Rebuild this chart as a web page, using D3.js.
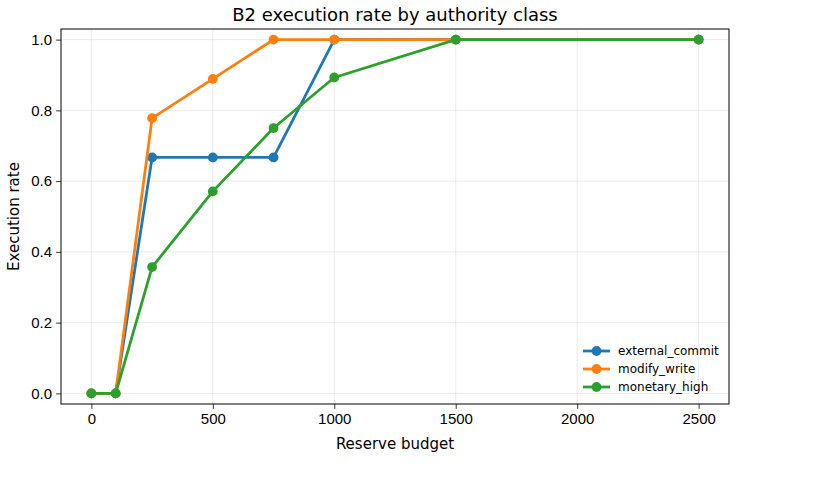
<!DOCTYPE html>
<html>
<head>
<meta charset="utf-8">
<script src="https://cdn.jsdelivr.net/npm/d3@7"></script>
<style>
  body { margin: 0; background: #fff; }
  svg { font-family: "DejaVu Sans", sans-serif; }
</style>
</head>
<body>
<svg id="chart" width="815" height="478"></svg>
<script>
// budgets on x axis
var budgets = [0, 100, 250, 500, 750, 1000, 1500, 2500];
var seriesNames = ["external_commit", "modify_write", "monetary_high"];
var externalCommit = [0, 0, 0.667, 0.667, 0.667, 1.0, 1.0, 1.0];
var modifyWrite = [0, 0, 0.778, 0.889, 1.0, 1.0, 1.0, 1.0];
var monetaryHigh = [0, 0, 0.357, 0.571, 0.75, 0.893, 1.0, 1.0];
var colors = ["#1f77b4", "#ff7f0e", "#2ca02c"];
var xTicks = [0, 500, 1000, 1500, 2000, 2500];
var yTicks = [0, 0.2, 0.4, 0.6, 0.8, 1.0];

var svg = d3.select("#chart");
var margin = {left: 61, top: 29, right: 729, bottom: 404};

var x = d3.scaleLinear().domain([-125, 2625]).range([margin.left, margin.right]);
var y = d3.scaleLinear().domain([-0.03, 1.03]).range([margin.bottom, margin.top]);

// grid
var grid = svg.append("g");
xTicks.forEach(function(t) {
  grid.append("line")
    .attr("x1", x(t)).attr("x2", x(t))
    .attr("y1", margin.top).attr("y2", margin.bottom)
    .attr("stroke", "#b0b0b0").attr("stroke-opacity", 0.3).attr("stroke-width", 0.8);
});
yTicks.forEach(function(t) {
  grid.append("line")
    .attr("x1", margin.left).attr("x2", margin.right)
    .attr("y1", y(t)).attr("y2", y(t))
    .attr("stroke", "#b0b0b0").attr("stroke-opacity", 0.3).attr("stroke-width", 0.8);
});

// axes
var xAxis = d3.axisBottom(x).tickValues(xTicks).tickSize(4.9).tickPadding(4).tickFormat(d3.format("d"));
var yAxis = d3.axisLeft(y).tickValues(yTicks).tickSize(4.9).tickPadding(4).tickFormat(d3.format(".1f"));

var gx = svg.append("g").attr("transform", "translate(0," + margin.bottom + ")").call(xAxis);
var gy = svg.append("g").attr("transform", "translate(" + margin.left + ",0)").call(yAxis);
[gx, gy].forEach(function(g) {
  g.select(".domain").remove();
  g.selectAll(".tick line").attr("stroke", "#000").attr("stroke-width", 0.8);
  g.selectAll(".tick text").attr("fill", "#000").style("font-size", "15px");
});

// series
var data = [externalCommit, modifyWrite, monetaryHigh];
var line = d3.line().x(function(d, i) { return x(budgets[i]); }).y(function(d) { return y(d); });

data.forEach(function(vals, k) {
  var g = svg.append("g");
  g.append("path").datum(vals)
    .attr("d", line)
    .attr("fill", "none")
    .attr("stroke", colors[k])
    .attr("stroke-width", 2.78)
    .attr("stroke-linejoin", "round")
    .attr("stroke-linecap", "square");
  g.selectAll("circle").data(vals).enter().append("circle")
    .attr("cx", function(d, i) { return x(budgets[i]); })
    .attr("cy", function(d) { return y(d); })
    .attr("r", 4.9)
    .attr("fill", colors[k]);
});

// frame
svg.append("rect")
  .attr("x", margin.left).attr("y", margin.top)
  .attr("width", margin.right - margin.left).attr("height", margin.bottom - margin.top)
  .attr("fill", "none").attr("stroke", "#000").attr("stroke-width", 1);

// legend
var legend = svg.append("g").attr("transform", "translate(583,351)");
seriesNames.forEach(function(name, k) {
  var row = legend.append("g").attr("transform", "translate(0," + (k * 18) + ")");
  row.append("line").attr("x1", 0).attr("x2", 27).attr("y1", 0).attr("y2", 0)
    .attr("stroke", colors[k]).attr("stroke-width", 2.78);
  row.append("circle").attr("cx", 13.5).attr("cy", 0).attr("r", 4.9).attr("fill", colors[k]);
  row.append("text").attr("x", 35).attr("y", 0).attr("dy", "0.35em")
    .style("font-size", "12px").attr("fill", "#000").text(name);
});

// labels
svg.append("text")
  .attr("x", (margin.left + margin.right) / 2).attr("y", 21)
  .attr("text-anchor", "middle").style("font-size", "18px").text("B2 execution rate by authority class");
svg.append("text")
  .attr("x", (margin.left + margin.right) / 2).attr("y", 449)
  .attr("text-anchor", "middle").style("font-size", "15px").text("Reserve budget");
svg.append("text")
  .attr("transform", "translate(19," + ((margin.top + margin.bottom) / 2) + ") rotate(-90)")
  .attr("text-anchor", "middle").style("font-size", "15px").text("Execution rate");
</script>
</body>
</html>
